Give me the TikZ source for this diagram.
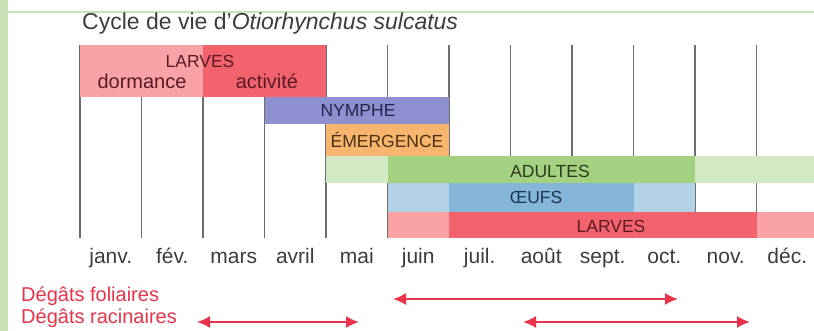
\documentclass[tikz,border=0pt]{standalone}
\usepackage{fontspec}
\setmainfont{Liberation Sans}
\usetikzlibrary{arrows.meta, positioning}

\definecolor{framegreen}{HTML}{C8E2B6}
\definecolor{larvlight}{HTML}{F9A3A6}
\definecolor{larvred}{HTML}{F3636E}
\definecolor{nymphblue}{HTML}{8E8FCF}
\definecolor{emerorange}{HTML}{F7B56F}
\definecolor{adultlight}{HTML}{D3E9C3}
\definecolor{adultgreen}{HTML}{A3D17F}
\definecolor{oeuflight}{HTML}{B3D2E7}
\definecolor{oeufblue}{HTML}{84B6D8}
\definecolor{gridgray}{HTML}{6E6E6E}
\definecolor{damred}{HTML}{E8334A}
\definecolor{textgray}{HTML}{3C3C3C}
\definecolor{larvtext}{HTML}{5A1A26}
\definecolor{nymphtext}{HTML}{22264F}
\definecolor{emertext}{HTML}{4A3212}
\definecolor{adulttext}{HTML}{2B3A1E}
\definecolor{oeuftext}{HTML}{1E3550}

\begin{document}
\begin{tikzpicture}[x=1pt, y=-1pt, node distance=61.5pt]
    \tikzstyle{bar} = [rectangle, anchor=north west, inner sep=0pt, outer sep=0pt, draw=none]
    \tikzstyle{grid} = [draw=gridgray, line width=1.1pt]
    \tikzstyle{barlabel} = [inner sep=0pt, font=\fontsize{17.5}{17.5}\selectfont]
    \tikzstyle{sublabel} = [inner sep=0pt, font=\fontsize{20}{20}\selectfont]
    \tikzstyle{month} = [inner sep=0pt, text height=15pt, text depth=4pt, text=textgray, font=\fontsize{21}{21}\selectfont]
    \tikzstyle{damage} = [anchor=base west, inner sep=0pt, text=damred, font=\fontsize{20}{20}\selectfont]
    \tikzstyle{arrow} = [draw=damred, line width=1.8pt, {Latex[length=13pt, width=12pt]}-{Latex[length=13pt, width=12pt]}]

    \useasboundingbox (0,0) rectangle (814,331);
    \fill [framegreen] (0,0) rectangle (8,331);
    \fill [framegreen] (8,11) rectangle (814,13);

    \node (title) [anchor=base west, inner sep=0pt, text=textgray, font=\fontsize{23}{23}\selectfont] at (82,30) {Cycle de vie d’\textit{Otiorhynchus sulcatus}};

    \draw [grid] (80,45) -- (80,238);
    \draw [grid] (141.5,45) -- (141.5,238);
    \draw [grid] (203,45) -- (203,238);
    \draw [grid] (264.5,45) -- (264.5,238);
    \draw [grid] (326,45) -- (326,238);
    \draw [grid] (387.5,45) -- (387.5,238);
    \draw [grid] (449,45) -- (449,238);
    \draw [grid] (510.5,45) -- (510.5,238);
    \draw [grid] (572,45) -- (572,238);
    \draw [grid] (633.5,45) -- (633.5,238);
    \draw [grid] (695,45) -- (695,238);
    \draw [grid] (756.5,45) -- (756.5,238);

    \node (dormance) [bar, fill=larvlight, minimum width=123pt, minimum height=52pt] at (80,45) {};
    \node (activite) [bar, fill=larvred, minimum width=123pt, minimum height=52pt] at (203,45) {};
    \node (nymphe) [bar, fill=nymphblue, minimum width=184.5pt, minimum height=27pt] at (264.5,97) {};
    \node (emergence) [bar, fill=emerorange, minimum width=123pt, minimum height=32pt] at (326,124) {};
    \node (adultesA) [bar, fill=adultlight, minimum width=61.5pt, minimum height=27pt] at (326,156) {};
    \node (adultesB) [bar, fill=adultgreen, minimum width=307.5pt, minimum height=27pt] at (387.5,156) {};
    \node (adultesC) [bar, fill=adultlight, minimum width=119pt, minimum height=27pt] at (695,156) {};
    \node (oeufsA) [bar, fill=oeuflight, minimum width=61.5pt, minimum height=29pt] at (387.5,183) {};
    \node (oeufsB) [bar, fill=oeufblue, minimum width=184.5pt, minimum height=29pt] at (449,183) {};
    \node (oeufsC) [bar, fill=oeuflight, minimum width=61.5pt, minimum height=29pt] at (633.5,183) {};
    \node (larvesA) [bar, fill=larvlight, minimum width=61.5pt, minimum height=26pt] at (387.5,212) {};
    \node (larvesB) [bar, fill=larvred, minimum width=307.5pt, minimum height=26pt] at (449,212) {};
    \node (larvesC) [bar, fill=larvlight, minimum width=57.5pt, minimum height=26pt] at (756.5,212) {};

    \node (larvesTop) [barlabel, text=larvtext] at (200,61) {LARVES};
    \node (dormanceTxt) [sublabel, text=larvtext] at (142,81) {dormance};
    \node (activiteTxt) [sublabel, text=larvtext] at (267,81) {activité};
    \node (nympheTxt) [barlabel, text=nymphtext] at (358,110) {NYMPHE};
    \node (emergenceTxt) [barlabel, text=emertext] at (387,140) {ÉMERGENCE};
    \node (adultesTxt) [barlabel, text=adulttext] at (550,171) {ADULTES};
    \node (oeufsTxt) [barlabel, text=oeuftext] at (536,197) {ŒUFS};
    \node (larvesTxt) [barlabel, text=larvtext] at (611,226) {LARVES};

    \node (janv) [month] at (110.75,258.5) {janv.};
    \node (fev) [month, right of=janv] {fév.};
    \node (mars) [month, right of=fev] {mars};
    \node (avril) [month, right of=mars] {avril};
    \node (mai) [month, right of=avril] {mai};
    \node (juin) [month, right of=mai] {juin};
    \node (juil) [month, right of=juin] {juil.};
    \node (aout) [month, right of=juil] {août};
    \node (sept) [month, right of=aout] {sept.};
    \node (oct) [month, right of=sept] {oct.};
    \node (nov) [month, right of=oct] {nov.};
    \node (dec) [month, right of=nov] {déc.};

    \node (foliaires) [damage] at (21,301) {Dégâts foliaires};
    \node (racinaires) [damage] at (21,323) {Dégâts racinaires};

    \coordinate (folStart) at (393,299);
    \coordinate (folEnd) at (678,299);
    \coordinate (racStartA) at (197,322);
    \coordinate (racEndA) at (359,322);
    \coordinate (racStartB) at (523,322);
    \coordinate (racEndB) at (750,322);

    \draw [arrow] (folStart) -- (folEnd);
    \draw [arrow] (racStartA) -- (racEndA);
    \draw [arrow] (racStartB) -- (racEndB);
\end{tikzpicture}
\end{document}
